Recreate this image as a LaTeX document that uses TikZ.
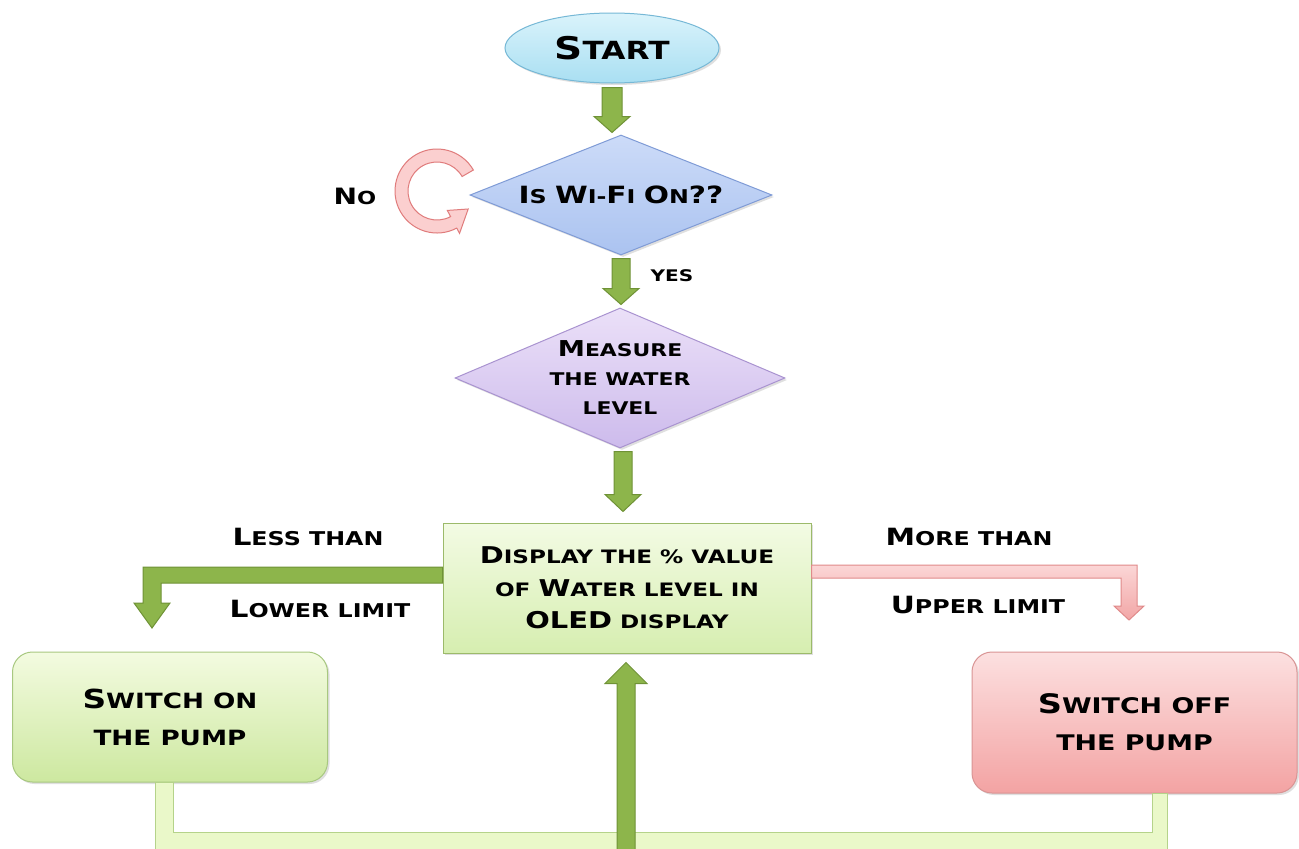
\documentclass[tikz,border=0pt]{standalone}
\usepackage{fontspec}
\usepackage{graphicx}
\usetikzlibrary{shapes.geometric,calc,shadows}
\newfontfamily\cpfont[FakeStretch=1.25]{DejaVu Sans}
\newcommand\Bg[1]{\scalebox{1.25}{#1}}
\newcommand\fz[2]{\fontsize{#1}{#2}\selectfont}
\definecolor{stT}{HTML}{DAF3FB}\definecolor{stB}{HTML}{A9DFF2}\definecolor{stD}{HTML}{76B8D6}
\definecolor{wfT}{HTML}{CCDBF8}\definecolor{wfB}{HTML}{ABC3F0}\definecolor{wfD}{HTML}{7F9BD6}
\definecolor{msT}{HTML}{EBE0F8}\definecolor{msB}{HTML}{CDBBEC}\definecolor{msD}{HTML}{A993D0}
\definecolor{dpT}{HTML}{F3FBE4}\definecolor{dpB}{HTML}{D6EEB0}\definecolor{dpD}{HTML}{9CBA6A}
\definecolor{onT}{HTML}{F3FBE0}\definecolor{onB}{HTML}{CDE8A0}\definecolor{onD}{HTML}{A8C880}
\definecolor{ofT}{HTML}{FCE0E0}\definecolor{ofB}{HTML}{F3A3A3}\definecolor{ofD}{HTML}{D99494}
\definecolor{agF}{HTML}{8DB54B}\definecolor{agD}{HTML}{6F9236}
\definecolor{apT}{HTML}{FBD6D6}\definecolor{apB}{HTML}{F2A6A6}\definecolor{apD}{HTML}{E08A8A}
\definecolor{cnF}{HTML}{EAF8C9}\definecolor{cnD}{HTML}{B5D38A}
\definecolor{lpF}{HTML}{FBCFCF}\definecolor{lpD}{HTML}{E07C7C}
\newcommand\darrow[6]{\draw[#1] let \p1=(#2), \p2=(#3) in
  (\x1-#4,\y1) -- (\x1-#4,\y2+#6) -- (\x1-#5,\y2+#6) -- (\x1,\y2) --
  (\x1+#5,\y2+#6) -- (\x1+#4,\y2+#6) -- (\x1+#4,\y1) -- cycle;}
\newcommand\uarrow[6]{\draw[#1] let \p1=(#2), \p2=(#3) in
  (\x1-#4,\y1) -- (\x1-#4,\y2-#6) -- (\x1-#5,\y2-#6) -- (\x1,\y2) --
  (\x1+#5,\y2-#6) -- (\x1+#4,\y2-#6) -- (\x1+#4,\y1) -- cycle;}
\begin{document}
\begin{tikzpicture}[x=1pt,y=-1pt,
  txt/.style={font={\cpfont\bfseries\fz{#1}{#1}}, inner sep=0, align=center},
  shad/.style={drop shadow={opacity=0.25, shadow xshift=2pt, shadow yshift=-2pt}},
  dia/.style={diamond, aspect=2.5, inner sep=0, line width=1},
  garrow/.style={fill=agF, draw=agD, line width=1},
  parrow/.style={top color=apT, bottom color=apB, draw=apD, line width=1},
  conn/.style={fill=cnF, draw=cnD, line width=1}]
\useasboundingbox (0,0) rectangle (1299,849);
\fill[white] (0,0) rectangle (1299,849);

% nodes
\node[ellipse, minimum width=214, minimum height=70, inner sep=0, top color=stT, bottom color=stB, draw=stD, line width=1, shad,
      font={\cpfont\bfseries\fz{25}{25}}] (start) at (612,48) {\Bg{S}TART};
\node[dia, minimum width=302, minimum height=120, top color=wfT, bottom color=wfB, draw=wfD, shad,
      font={\cpfont\bfseries\fz{19}{19}}] (wifi) at (621,195) {\Bg{I}S \Bg{W}I-\Bg{F}I \Bg{O}N\Bg{??}};
\node[dia, minimum width=330, minimum height=140, top color=msT, bottom color=msB, draw=msD, shad, align=center,
      font={\cpfont\bfseries\fz{17.5}{29}}] (meas) at (620,378) {\Bg{M}EASURE\\THE WATER\\LEVEL};
\node[rectangle, minimum width=368, minimum height=130, inner sep=0, top color=dpT, bottom color=dpB, draw=dpD, line width=1, shad, align=center,
      font={\cpfont\bfseries\fz{18.5}{32.5}}] (disp) at (627,588) {\Bg{D}ISPLAY THE \% VALUE\\OF \Bg{W}ATER LEVEL IN\\\Bg{OLED} DISPLAY};
\node[rectangle, rounded corners=20, minimum width=315, minimum height=130, inner sep=0, top color=onT, bottom color=onB, draw=onD, line width=1, shad, align=center,
      font={\cpfont\bfseries\fz{21}{37}}] (swon) at (170,717) {\Bg{S}WITCH ON\\THE PUMP};
\node[rectangle, rounded corners=20, minimum width=325, minimum height=141, inner sep=0, top color=ofT, bottom color=ofB, draw=ofD, line width=1, shad, align=center,
      font={\cpfont\bfseries\fz{21.5}{37}}] (swoff) at (1134.5,722.5) {\Bg{S}WITCH OFF\\THE PUMP};

% labels
\node[txt=18] (no) at (355,196) {\Bg{N}O};
\node[txt=16] (yes) at (672,276) {YES};
\node[txt=19] (less) at (308,537) {\Bg{L}ESS THAN};
\node[txt=19] (lower) at (320,609) {\Bg{L}OWER LIMIT};
\node[txt=19] (more) at (969,537) {\Bg{M}ORE THAN};
\node[txt=19] (upper) at (978,605) {\Bg{U}PPER LIMIT};

% straight arrows
\darrow{garrow}{$(start.south)+(0,4)$}{$(start.south |- wifi.north)+(0,-2)$}{10pt}{18pt}{16pt}
\darrow{garrow}{$(wifi.south)+(0,3)$}{$(wifi.south |- meas.north)+(0,-3)$}{9pt}{18pt}{16pt}
\darrow{garrow}{$(meas.south)+(3,3)$}{$(meas.south |- disp.north)+(3,-11)$}{9pt}{18pt}{17pt}

% bottom return connector
\coordinate (bot) at (626,852);
\draw[conn] let \p1=(swon.south), \p2=(swoff.south), \p3=(bot) in
  (\x1-15pt,\y1) -- (\x1-15pt,\y3) -- (\x2+33pt,\y3) -- (\x2+33pt,\y2) -- (\x2+18pt,\y2)
  -- (\x2+18pt,\y3+20pt) -- (\x1+3pt,\y3+20pt) -- (\x1+3pt,\y1) -- cycle;
\uarrow{garrow}{bot}{$(bot |- disp.south)+(0,9)$}{9pt}{21pt}{21pt}

% bent arrows
\coordinate (ltip) at (152,628);
\draw[garrow] let \p1=(disp.west), \p2=(ltip) in
  (\x1,\y1+21pt) -- (\x2-9pt,\y1+21pt) -- (\x2-9pt,\y2+25pt) -- (\x2-18pt,\y2+25pt) -- (\x2,\y2)
  -- (\x2+18pt,\y2+25pt) -- (\x2+9pt,\y2+25pt) -- (\x2+9pt,\y1+5pt) -- (\x1,\y1+5pt) -- cycle;
\coordinate (rtip) at (1129,620);
\draw[parrow] let \p1=(disp.east), \p2=(rtip) in
  (\x1,\y1+23pt) -- (\x2+8pt,\y1+23pt) -- (\x2+8pt,\y2+14pt) -- (\x2+15pt,\y2+14pt) -- (\x2,\y2)
  -- (\x2-15pt,\y2+14pt) -- (\x2-8pt,\y2+14pt) -- (\x2-8pt,\y1+10pt) -- (\x1,\y1+10pt) -- cycle;

% "No" loop arrow
\coordinate (lc) at (437,191);
\draw[fill=lpF, draw=lpD, line width=1]
  ($(lc)+(-30:42)$) arc[start angle=-30, end angle=-298, radius=42]
  -- ($(lc)+(62:48)$) -- ($(lc)+(30:36)$) -- ($(lc)+(62:22)$) -- ($(lc)+(62:29)$)
  arc[start angle=-298, end angle=-30, radius=29] -- cycle;
\end{tikzpicture}
\end{document}
